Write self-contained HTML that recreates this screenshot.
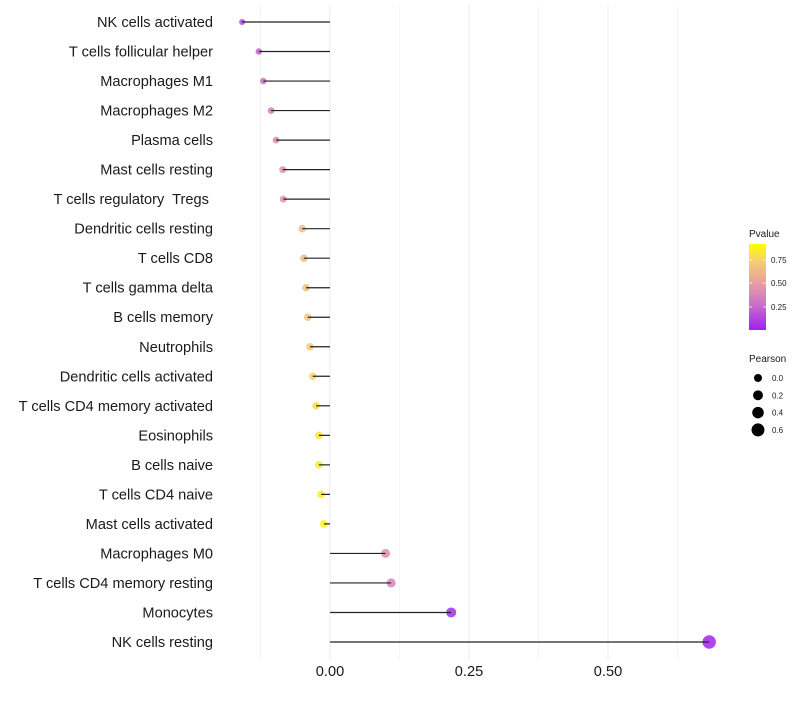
<!DOCTYPE html>
<html><head><meta charset="utf-8"><style>
body{margin:0;background:#fff;font-family:"Liberation Sans",sans-serif}
svg text{font-family:"Liberation Sans",sans-serif;white-space:pre}
</style></head><body>
<svg id="c" width="800" height="700">
<defs><linearGradient id="pg" x1="0" y1="1" x2="0" y2="0">
<stop offset="0" stop-color="#a020f0"/><stop offset="0.3" stop-color="#cc70c8"/><stop offset="0.55" stop-color="#e8a0a0"/><stop offset="0.8" stop-color="#f5cf70"/><stop offset="1" stop-color="#ffff00"/>
</linearGradient></defs>
</svg>
<script>
const categories=["NK cells activated","T cells follicular helper","Macrophages M1","Macrophages M2","Plasma cells","Mast cells resting","T cells regulatory  Tregs ","Dendritic cells resting","T cells CD8","T cells gamma delta","B cells memory","Neutrophils","Dendritic cells activated","T cells CD4 memory activated","Eosinophils","B cells naive","T cells CD4 naive","Mast cells activated","Macrophages M0","T cells CD4 memory resting","Monocytes","NK cells resting"];
const pearson=[-0.158,-0.128,-0.12,-0.106,-0.097,-0.085,-0.084,-0.05,-0.047,-0.043,-0.04,-0.036,-0.031,-0.025,-0.02,-0.02,-0.016,-0.011,0.1,0.11,0.218,0.682];
const pvalue=[0.15,0.25,0.3,0.38,0.43,0.48,0.48,0.68,0.68,0.72,0.74,0.77,0.82,0.86,0.89,0.9,0.93,0.96,0.45,0.4,0.05,0.01];
const xTicks=[0,0.25,0.5];
const xTickLabels=["0.00","0.25","0.50"];
const ns="http://www.w3.org/2000/svg",svg=document.getElementById('c');
const X=v=>330+v*556, Y=i=>22+i*(620/21);
function mk(t,a,p){const e=document.createElementNS(ns,t);for(const k in a)e.setAttribute(k,a[k]);(p||svg).appendChild(e);return e;}
function lerp(a,b,t){return a.map((v,i)=>Math.round(v+(b[i]-v)*t));}
const stops=[[0,[160,32,240]],[0.3,[204,112,200]],[0.55,[232,160,160]],[0.8,[245,207,112]],[1,[255,255,0]]];
function col(p){for(let i=1;i<stops.length;i++){if(p<=stops[i][0]){const t=(p-stops[i-1][0])/(stops[i][0]-stops[i-1][0]);return 'rgb('+lerp(stops[i-1][1],stops[i][1],t).join(',')+')';}}return 'rgb(255,255,0)';}
const rad=v=>Math.sqrt(Math.max(4,16+43*v));
for(let v=-0.125;v<=0.66;v+=0.125){
const g=mk('line',{x1:X(v),x2:X(v),y1:5,y2:660,stroke:'#ebebeb','stroke-width':Math.abs((v/0.25)%1)<1e-6?1:0.5});
}
categories.forEach((c,i)=>{
const y=Y(i);
const t=mk('text',{x:213,y:y+5,'text-anchor':'end','font-size':14.6,fill:'#1a1a1a'});t.textContent=c;

const d=mk('circle',{cx:X(pearson[i]),cy:y,r:rad(pearson[i]),fill:col(pvalue[i]),'fill-opacity':0.85});

const l=mk('line',{x1:X(0),x2:X(pearson[i]),y1:y,y2:y,stroke:'#222','stroke-width':1.2});

});
xTicks.forEach((v,i)=>{const t=mk('text',{x:X(v),y:676,'text-anchor':'middle','font-size':14.6,fill:'#1a1a1a'});t.textContent=xTickLabels[i];
});
const lt=mk('text',{x:749,y:237,'font-size':10,fill:'#1a1a1a'});lt.textContent='Pvalue';

const cb=mk('rect',{x:749,y:244,width:17,height:86,fill:'url(#pg)'});

[[0.75,260],[0.5,283],[0.25,307]].forEach(([v,y])=>{
mk('line',{x1:749,x2:752,y1:y,y2:y,stroke:'#fff','stroke-width':0.7});mk('line',{x1:763,x2:766,y1:y,y2:y,stroke:'#fff','stroke-width':0.7});
const t=mk('text',{x:771,y:y+3,'font-size':8,fill:'#1a1a1a'});t.textContent=v.toFixed(2);
});
const pt=mk('text',{x:749,y:362,'font-size':10,fill:'#1a1a1a'});pt.textContent='Pearson';

[0,0.2,0.4,0.6].forEach((v,i)=>{const y=378+i*17.3;
const c=mk('circle',{cx:758,cy:y,r:rad(v),fill:'#000'});
const t=mk('text',{x:772,y:y+3,'font-size':8,fill:'#1a1a1a'});t.textContent=v.toFixed(1);
});
</script>
</body></html>
